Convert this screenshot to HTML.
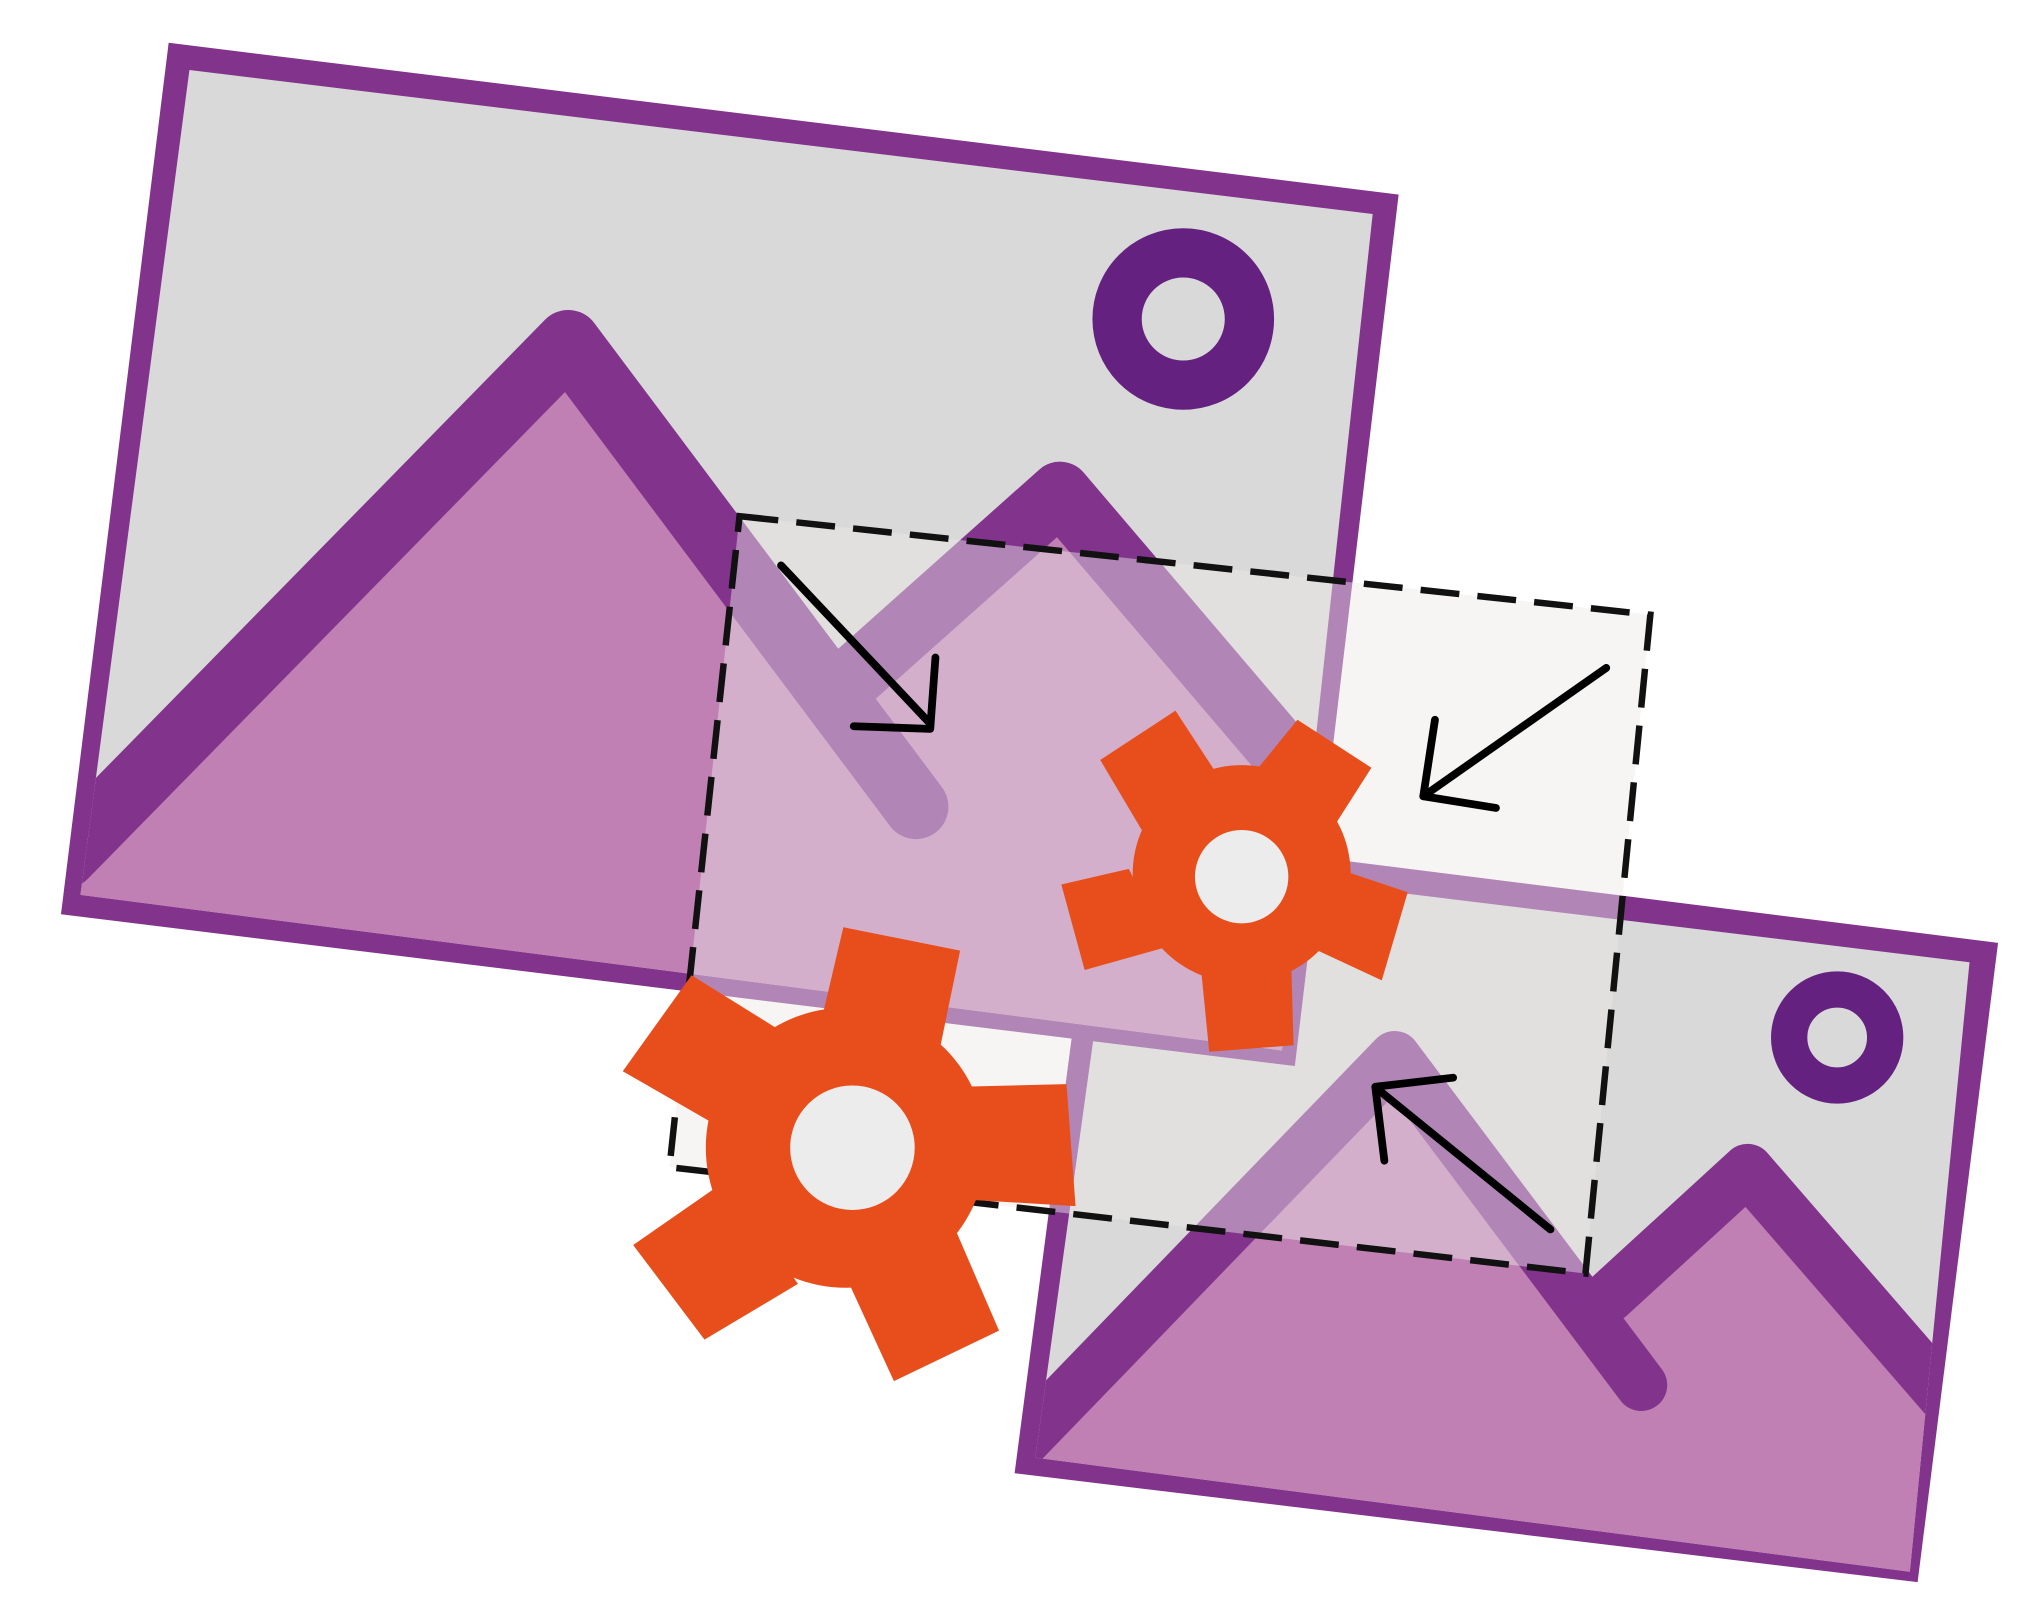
<!DOCTYPE html>
<html><head><meta charset="utf-8"><style>
html,body{margin:0;padding:0;background:#fff;}
svg{display:block;}
</style></head><body>
<svg width="2024" height="1612" viewBox="0 0 1560 1243" preserveAspectRatio="none" xmlns="http://www.w3.org/2000/svg">
<defs>
<clipPath id="c1"><polygon points="146,54 1058,165 988,810 62,690"/></clipPath>
<clipPath id="c2"><polygon points="862,662 1518,742 1472,1212 798,1124"/></clipPath>
</defs>
<!-- second picture -->
<polygon points="847,640 1540,727 1478,1220 782,1136" fill="#82338c"/>
<polygon points="862,662 1518,742 1472,1212 798,1124" fill="#d9d9d9"/>
<g clip-path="url(#c2)">
<polygon points="790,1110 1075,815 1265,1068 1265,1300 790,1300" fill="#c080b4"/>
<polygon points="1240,1000 1347,902 1510,1090 1510,1300 1240,1300" fill="#c080b4"/>
<path d="M790,1110 L1075,815 L1265,1068" fill="none" stroke="#82338c" stroke-width="40" stroke-linecap="round" stroke-linejoin="round"/>
<path d="M1240,1000 L1347,902 L1510,1090" fill="none" stroke="#82338c" stroke-width="40" stroke-linecap="round" stroke-linejoin="round"/>
</g>
<circle cx="1416" cy="800" r="37" fill="none" stroke="#65217f" stroke-width="28"/>
<!-- first picture -->
<polygon points="130,33 1078,150 998,822 47,705" fill="#82338c"/>
<polygon points="146,54 1058,165 988,810 62,690" fill="#d9d9d9"/>
<g clip-path="url(#c1)">
<polygon points="50,660 438,264 706,622 706,900 50,900" fill="#c080b4"/>
<polygon points="660,520 817,380 1030,630 1030,900 660,900" fill="#c080b4"/>
<path d="M50,660 L438,264 L706,622" fill="none" stroke="#82338c" stroke-width="50" stroke-linecap="round" stroke-linejoin="round"/>
<path d="M660,520 L817,380 L1030,630" fill="none" stroke="#82338c" stroke-width="48" stroke-linecap="round" stroke-linejoin="round"/>
</g>
<circle cx="912" cy="246" r="51" fill="none" stroke="#65217f" stroke-width="38"/>
<!-- dashed selection -->
<polygon points="570,398 1272,474 1222,982 516,900" fill="#ece9e6" fill-opacity="0.45"/>
<polygon points="570,398 1272,474 1222,982 516,900" fill="none" stroke="#111" stroke-width="5" stroke-dasharray="30 14"/>
<!-- small gear -->
<g fill="#e84e1b">
<circle cx="957" cy="674" r="84"/>
<polygon points="848,586 906,548 940,600 880,640"/>
<polygon points="1000,555 1057,592 1020,650 965,598"/>
<polygon points="818,682 870,670 900,730 836,748"/>
<polygon points="925,740 995,735 997,806 932,811"/>
<polygon points="1025,668 1085,688 1065,756 1005,728"/>
</g>
<circle cx="957" cy="676" r="36" fill="#ececec"/>
<!-- big gear -->
<g fill="#e84e1b">
<circle cx="652" cy="885" r="108"/>
<polygon points="650,715 740,733 720,830 630,800"/>
<polygon points="480,826 533,752 610,800 565,875"/>
<polygon points="740,838 822,836 829,930 745,925"/>
<polygon points="488,960 560,910 615,990 543,1033"/>
<polygon points="650,980 735,945 770,1026 689,1065"/>
</g>
<circle cx="657" cy="885" r="48" fill="#ececec"/>
<!-- arrows -->
<g fill="none" stroke="#000" stroke-width="6" stroke-linecap="round" stroke-linejoin="round">
<line x1="602" y1="436" x2="717" y2="558"/>
<polyline points="658,560 717,562 721,507"/>
<line x1="1238" y1="515" x2="1097" y2="614"/>
<polyline points="1106,555 1097,614 1153,623"/>
<line x1="1195" y1="948" x2="1062" y2="840"/>
<polyline points="1067,895 1060,838 1120,831"/>
</g>
</svg>
</body></html>
